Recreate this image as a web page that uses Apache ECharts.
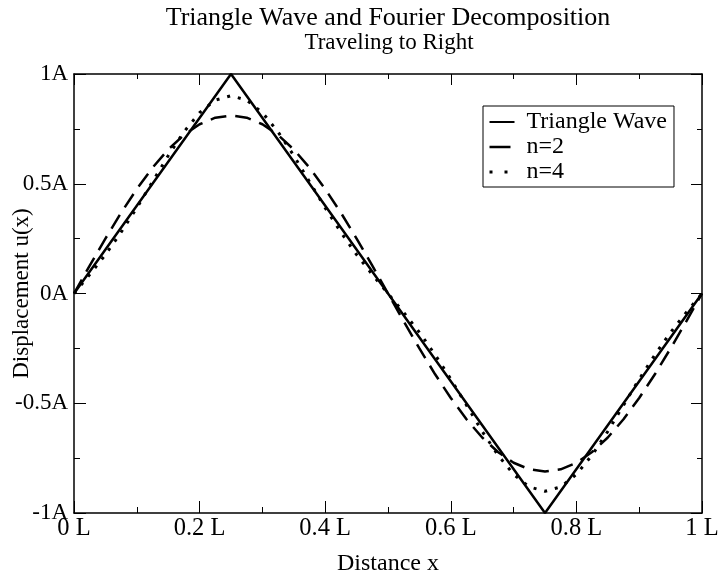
<!DOCTYPE html>
<html>
<head>
<meta charset="utf-8">
<title>Triangle Wave and Fourier Decomposition</title>
<script src="https://cdn.jsdelivr.net/npm/echarts@6/dist/echarts.min.js"></script>
<style>
  html, body { margin: 0; padding: 0; background: #fff; }
  #chart { width: 719px; height: 571px; }
</style>
</head>
<body>
<div id="chart"></div>
<script>
// values
var xPos = [0, 0.025, 0.05, 0.075, 0.1, 0.125, 0.15, 0.175, 0.2, 0.225,
            0.25, 0.275, 0.3, 0.325, 0.35, 0.375, 0.4, 0.425, 0.45, 0.475,
            0.5, 0.525, 0.55, 0.575, 0.6, 0.625, 0.65, 0.675, 0.7, 0.725,
            0.75, 0.775, 0.8, 0.825, 0.85, 0.875, 0.9, 0.925, 0.95, 0.975, 1]
var triX = [0, 0.25, 0.75, 1]
var triY = [0, 1, -1, 0]
var n2Y = [0, 0.127, 0.250, 0.368, 0.476, 0.573, 0.656, 0.722, 0.771, 0.801,
           0.811, 0.801, 0.771, 0.722, 0.656, 0.573, 0.476, 0.368, 0.250, 0.127,
           0, -0.127, -0.250, -0.368, -0.476, -0.573, -0.656, -0.722, -0.771, -0.801,
           -0.811, -0.801, -0.771, -0.722, -0.656, -0.573, -0.476, -0.368, -0.250, -0.127, 0]
var n4Y = [0, 0.086, 0.177, 0.279, 0.390, 0.509, 0.628, 0.736, 0.824, 0.881,
           0.901, 0.881, 0.824, 0.736, 0.628, 0.509, 0.390, 0.279, 0.177, 0.086,
           0, -0.086, -0.177, -0.279, -0.390, -0.509, -0.628, -0.736, -0.824, -0.881,
           -0.901, -0.881, -0.824, -0.736, -0.628, -0.509, -0.390, -0.279, -0.177, -0.086, 0]
var seriesNames = ['Triangle Wave', 'n=2', 'n=4']

function pairs (xs, ys) {
  return xs.map(function (x, i) { return [x, ys[i]] })
}

var serif = '"Liberation Serif", "Times New Roman", serif'
var axisLine = { show: true, onZero: false, lineStyle: { color: '#000', width: 1.5 } }
var tick = { inside: true, length: 12, lineStyle: { color: '#000', width: 1 } }
var minor = { show: true, splitNumber: 2, length: 6, lineStyle: { color: '#000', width: 1 } }

var chart = echarts.init(document.getElementById('chart'))
var option = {
  animation: false,
  backgroundColor: '#fff',
  title: [
    {
      text: 'Triangle Wave and Fourier Decomposition',
      left: 388,
      top: 5,
      textAlign: 'center',
      padding: 0,
      textStyle: { fontFamily: serif, fontSize: 26, fontWeight: 'normal', color: '#000' }
    },
    {
      text: 'Traveling to Right',
      left: 389,
      top: 31,
      textAlign: 'center',
      padding: 0,
      textStyle: { fontFamily: serif, fontSize: 23, fontWeight: 'normal', color: '#000' }
    }
  ],
  legend: {
    data: [
      { name: seriesNames[0] },
      { name: seriesNames[1], lineStyle: { type: [21, 30], width: 2.5 } },
      { name: seriesNames[2], lineStyle: { type: [3, 12], width: 3 } }
    ],
    orient: 'vertical',
    left: 483,
    top: 106,
    padding: [4, 7, 3, 5],
    itemGap: 1,
    itemWidth: 25,
    itemHeight: 14,
    borderColor: '#000',
    borderWidth: 1,
    selectedMode: false,
    itemStyle: { opacity: 0 },
    textStyle: { fontFamily: serif, fontSize: 24, color: '#000', padding: [0, 0, 0, 7] }
  },
  grid: { left: 74, right: 17, top: 74, bottom: 58, outerBoundsMode: 'none' },
  xAxis: [
    {
      type: 'value',
      min: 0,
      max: 1,
      interval: 0.2,
      name: 'Distance x',
      nameLocation: 'middle',
      nameGap: 39,
      nameMoveOverlap: false,
      nameTextStyle: { fontFamily: serif, fontSize: 24, color: '#000' },
      axisLine: axisLine,
      axisTick: tick,
      minorTick: minor,
      splitLine: { show: false },
      axisLabel: {
        fontFamily: serif, fontSize: 24.5, color: '#000', margin: 3,
        showMinLabel: true, showMaxLabel: true,
        formatter: function (v) { return +v.toFixed(1) + ' L' }
      }
    },
    {
      type: 'value',
      position: 'top',
      min: 0,
      max: 1,
      interval: 0.2,
      axisLine: axisLine,
      axisTick: { inside: true, length: 11, lineStyle: { color: '#000', width: 1 } },
      minorTick: { show: true, splitNumber: 2, length: 5, lineStyle: { color: '#000', width: 1 } },
      splitLine: { show: false },
      axisLabel: { show: false }
    }
  ],
  yAxis: [
    {
      type: 'value',
      min: -1,
      max: 1,
      interval: 0.5,
      name: 'Displacement u(x)',
      nameLocation: 'middle',
      nameGap: 41,
      nameMoveOverlap: false,
      nameTextStyle: { fontFamily: serif, fontSize: 23, color: '#000' },
      axisLine: axisLine,
      axisTick: tick,
      minorTick: minor,
      splitLine: { show: false },
      axisLabel: {
        fontFamily: serif, fontSize: 23, color: '#000', margin: 6,
        showMinLabel: true, showMaxLabel: true,
        formatter: function (v) { return +v.toFixed(1) + 'A' }
      }
    },
    {
      type: 'value',
      position: 'right',
      min: -1,
      max: 1,
      interval: 0.5,
      axisLine: axisLine,
      axisTick: { inside: true, length: 11, lineStyle: { color: '#000', width: 1 } },
      minorTick: { show: true, splitNumber: 2, length: 5, lineStyle: { color: '#000', width: 1 } },
      splitLine: { show: false },
      axisLabel: { show: false }
    }
  ],
  series: [
    {
      name: seriesNames[0],
      type: 'line',
      symbol: 'none',
      data: pairs(triX, triY),
      lineStyle: { color: '#000', width: 2.5, type: 'solid' },
      itemStyle: { color: '#000' },
      z: 3
    },
    {
      name: seriesNames[1],
      type: 'line',
      symbol: 'none',
      data: pairs(xPos, n2Y),
      lineStyle: { color: '#000', width: 2.5, type: [16, 9] },
      itemStyle: { color: '#000' },
      z: 2
    },
    {
      name: seriesNames[2],
      type: 'line',
      symbol: 'none',
      data: pairs(xPos, n4Y),
      lineStyle: { color: '#000', width: 3, type: [3, 8] },
      itemStyle: { color: '#000' },
      z: 2
    }
  ]
}
chart.setOption(option)
</script>
</body>
</html>
